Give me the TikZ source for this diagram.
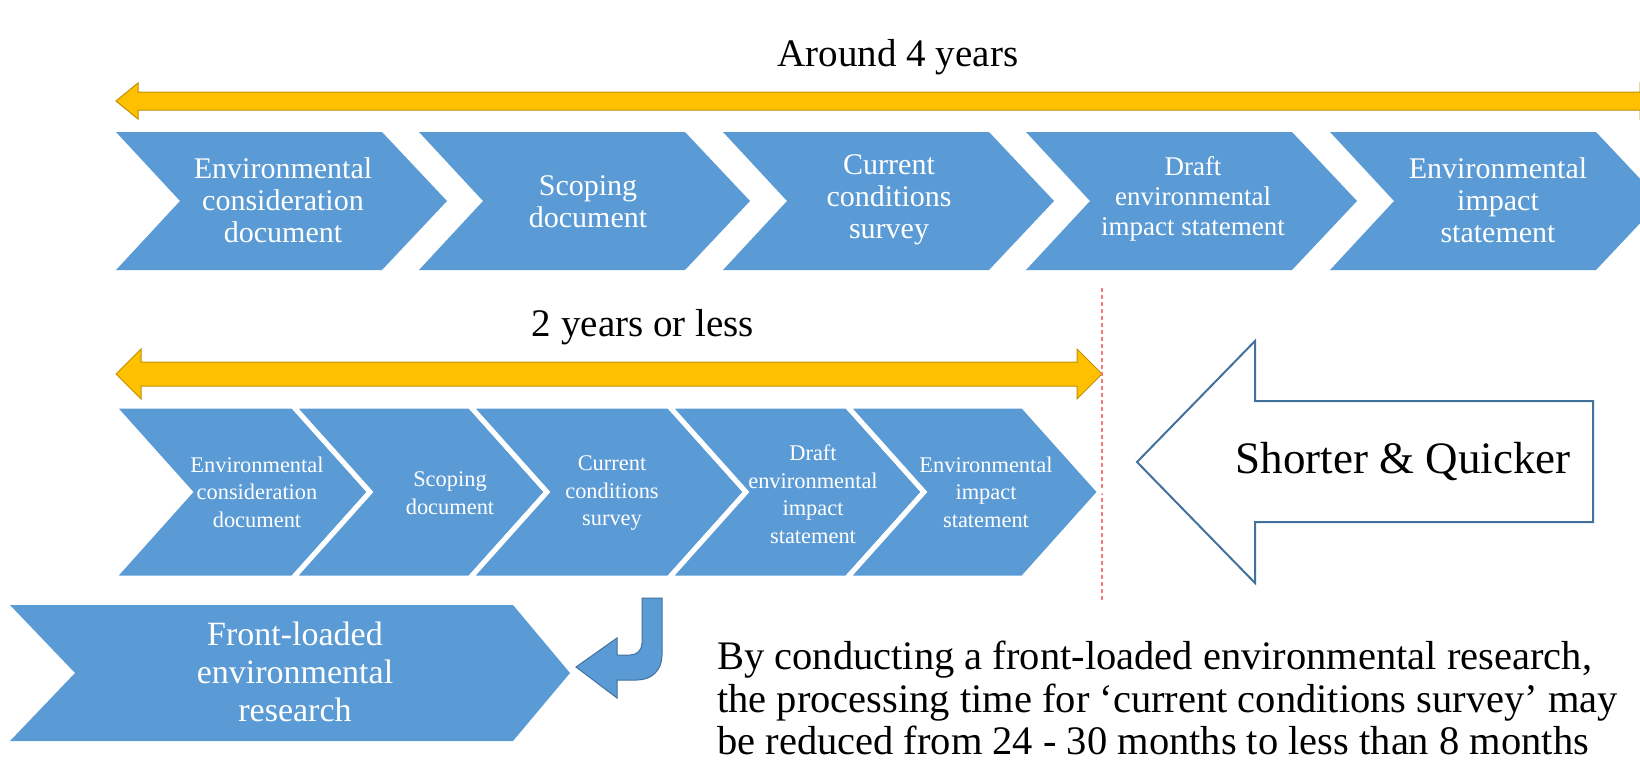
\documentclass[tikz,border=0pt]{standalone}
\usepackage{fontspec}
\setmainfont{Liberation Serif}
\definecolor{chevblue}{HTML}{5B9BD5}
\definecolor{spangold}{HTML}{FFC000}
\definecolor{spanedge}{HTML}{BF9000}
\definecolor{edgeblue}{HTML}{41719C}
\definecolor{cutred}{HTML}{F27B7B}
\begin{document}
\begin{tikzpicture}[x=1pt,y=1pt,
    chev/.style={fill=chevblue},
    chevrow/.style={fill=chevblue, draw=white, line width=5pt, line join=miter},
    yellowspan/.style={fill=spangold, draw=spanedge, line width=1pt},
    steptext/.style={text=white, align=center, inner sep=0pt},
    bigtext/.style={inner sep=0pt, font=\fontsize{39}{44}\selectfont}]
    \useasboundingbox (0,0) rectangle (1640,-768);
    \clip (0,0) rectangle (1640,-768);
    \node [bigtext] (fouryears) at (898,-57) {Around 4 years};
    \filldraw [yellowspan] (116,-101) -- (138,-83) -- (138,-92) -- (1640,-92) -- (1640,-83) -- (1662,-101) -- (1640,-119) -- (1640,-110) -- (138,-110) -- (138,-119) -- cycle;
    \fill [chev] (116,-132) -- (382,-132) -- (447,-201) -- (382,-270) -- (116,-270) -- (180,-201) -- cycle;
    \fill [chev] (419,-132) -- (685,-132) -- (750,-201) -- (685,-270) -- (419,-270) -- (483,-201) -- cycle;
    \fill [chev] (723,-132) -- (989,-132) -- (1054,-201) -- (989,-270) -- (723,-270) -- (787,-201) -- cycle;
    \fill [chev] (1026,-132) -- (1292,-132) -- (1357,-201) -- (1292,-270) -- (1026,-270) -- (1090,-201) -- cycle;
    \fill [chev] (1330,-132) -- (1596,-132) -- (1661,-201) -- (1596,-270) -- (1330,-270) -- (1394,-201) -- cycle;
    \node [steptext, font=\fontsize{30}{32}\selectfont] (ecdlong) at (283,-200) {Environmental\\consideration\\document};
    \node [steptext, font=\fontsize{30}{32}\selectfont] (scopelong) at (588,-202) {Scoping\\document};
    \node [steptext, font=\fontsize{30}{32}\selectfont] (surveylong) at (889,-200) {Current\\conditions\\survey};
    \node [steptext, font=\fontsize{27}{30}\selectfont] (draftlong) at (1193,-199) {Draft\\environmental\\impact statement};
    \node [steptext, font=\fontsize{30}{32}\selectfont] (eislong) at (1498,-200) {Environmental\\impact\\statement};
    \node [bigtext] (twoyears) at (643,-327) {2 years or less};
    \filldraw [yellowspan] (116,-374) -- (141,-349) -- (141,-362) -- (1077,-362) -- (1077,-349) -- (1102,-374) -- (1077,-399) -- (1077,-386) -- (141,-386) -- (141,-399) -- cycle;
    \draw [cutred, line width=1.5pt, dash pattern=on 4pt off 3pt] (1102,-288) -- (1102,-600);
    \filldraw [chevrow] (113,-406) -- (293,-406) -- (370,-492) -- (293,-578) -- (113,-578) -- (190,-492) -- cycle;
    \filldraw [chevrow] (293,-406) -- (470,-406) -- (547,-492) -- (470,-578) -- (293,-578) -- (370,-492) -- cycle;
    \filldraw [chevrow] (470,-406) -- (669,-406) -- (746,-492) -- (669,-578) -- (470,-578) -- (547,-492) -- cycle;
    \filldraw [chevrow] (669,-406) -- (847,-406) -- (924,-492) -- (847,-578) -- (669,-578) -- (746,-492) -- cycle;
    \filldraw [chevrow] (847,-406) -- (1023,-406) -- (1100,-492) -- (1023,-578) -- (847,-578) -- (924,-492) -- cycle;
    \node [steptext, font=\fontsize{22.4}{27.5}\selectfont] (ecdshort) at (257,-492) {Environmental\\consideration\\document};
    \node [steptext, font=\fontsize{22.4}{27.5}\selectfont] (scopeshort) at (450,-493) {Scoping\\document};
    \node [steptext, font=\fontsize{22.4}{27.5}\selectfont] (surveyshort) at (612,-493) {Current\\conditions\\survey};
    \node [steptext, font=\fontsize{22.4}{27.5}\selectfont] (draftshort) at (813,-494) {Draft\\environmental\\impact\\statement};
    \node [steptext, font=\fontsize{22.4}{27.5}\selectfont] (eisshort) at (986,-492) {Environmental\\impact\\statement};
    \draw [edgeblue, line width=2pt, line join=miter] (1137,-462) -- (1255,-341) -- (1255,-401) -- (1593,-401) -- (1593,-522) -- (1255,-522) -- (1255,-583) -- cycle;
    \node [inner sep=0pt, font=\fontsize{45}{50}\selectfont] (quicker) at (1403,-462) {Shorter \& Quicker};
    \fill [chev] (10,-605) -- (513,-605) -- (570,-673) -- (513,-741) -- (10,-741) -- (75,-673) -- cycle;
    \node [steptext, font=\fontsize{34}{38}\selectfont] (frontload) at (295,-672) {Front-loaded\\environmental\\research};
    \filldraw [fill=chevblue, draw=edgeblue, line width=1pt] (642,-598) -- (662,-598) -- (662,-655) .. controls (662,-670) and (652,-680) .. (637,-680) -- (617,-680) -- (617,-698) -- (576,-667) -- (617,-638) -- (617,-655) -- (630,-655) .. controls (637,-655) and (642,-650) .. (642,-643) -- cycle;
    \node [inner sep=0pt, anchor=north west, align=left, font=\fontsize{40.5}{42.5}\selectfont] (remark) at (717,-641) {By conducting a front-loaded environmental research,\\the processing time for ‘current conditions survey’ may\\be reduced from 24 - 30 months to less than 8 months};
\end{tikzpicture}
\end{document}
